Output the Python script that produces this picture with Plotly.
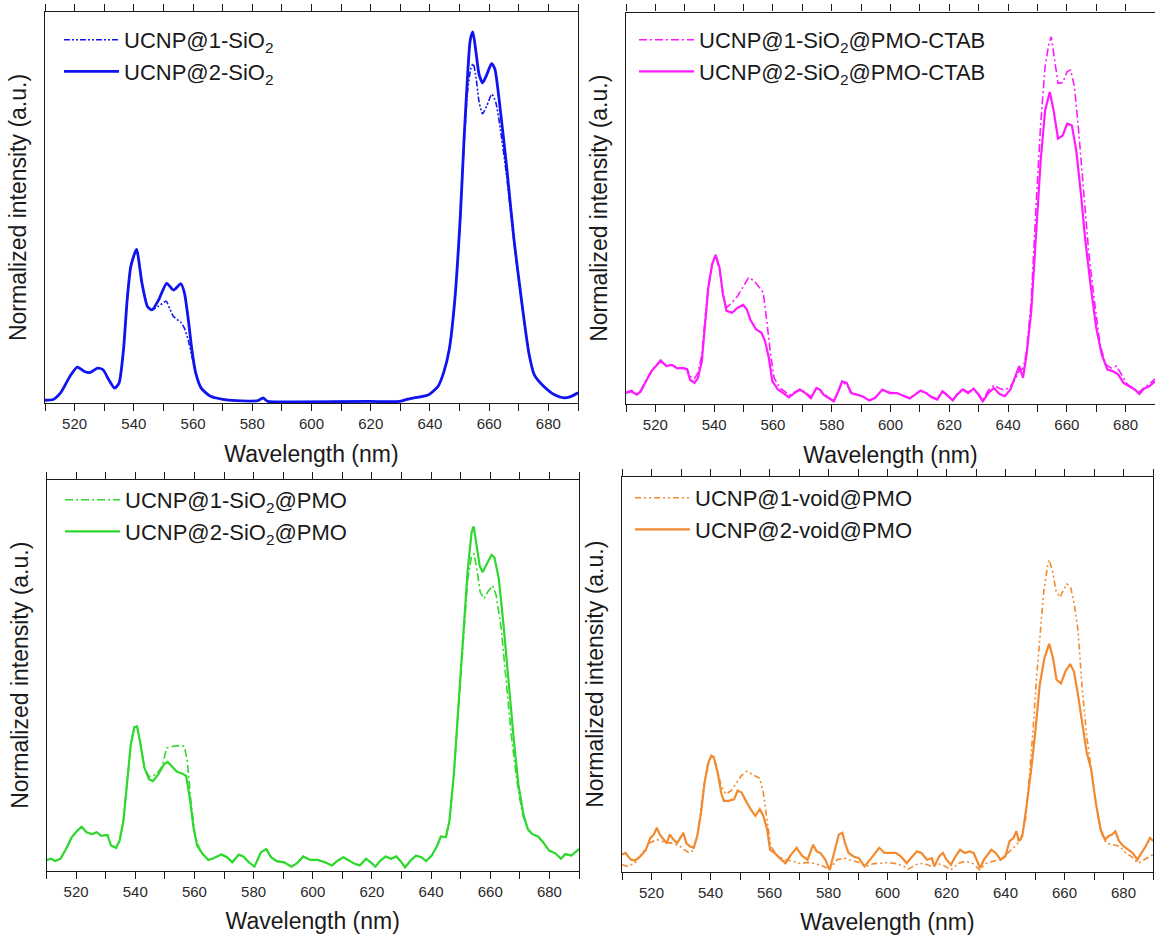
import plotly.graph_objects as go

W, H = 1155, 937

# ---------------- data (wavelength nm, normalized intensity) ----------------
p1_sio2_1 = [(510,0.007),(512.75,0.009),(515.25,0.026),(518.4,0.068),(520.9,0.092),(523.5,0.08),(525.25,0.078),(527.75,0.089),(529.6,0.085),(531.5,0.06),(533.5,0.038),(535,0.051),(536.5,0.136),(537.75,0.264),(539,0.35),(540.9,0.393),(542.75,0.306),(544.6,0.247),(546.1,0.238),(548.4,0.248),(550.9,0.26),(552.2,0.24),(553.4,0.221),(555.9,0.206),(557.1,0.191),(558.4,0.16),(559.6,0.12),(560.9,0.075),(562.75,0.038),(565.9,0.017),(569.6,0.01),(574.6,0.006),(582,0.006),(583.6,0.013),(585.25,0.004),(594.6,0.003),(619.6,0.004),(629.6,0.004),(632.1,0.009),(634.6,0.013),(639.6,0.021),(642.75,0.043),(644.6,0.077),(646.5,0.136),(648.4,0.264),(650.25,0.47),(651.5,0.66),(652.75,0.80),(653.8,0.855),(654.6,0.868),(655.6,0.83),(656.6,0.77),(657.75,0.74),(659.2,0.76),(660.9,0.79),(662.2,0.77),(663.8,0.70),(665.9,0.58),(668.4,0.41),(670.9,0.264),(673.4,0.128),(675.25,0.072),(678.4,0.043),(682.1,0.021),(685.25,0.013),(687.75,0.017),(690,0.026)]
p1_sio2_2 = [(510,0.007),(512.75,0.009),(515.25,0.026),(518.4,0.068),(520.9,0.092),(523.5,0.08),(525.25,0.078),(527.75,0.089),(529.6,0.085),(531.5,0.06),(533.5,0.038),(535,0.051),(536.5,0.136),(537.75,0.264),(539,0.35),(540.9,0.393),(542.75,0.306),(544.6,0.247),(546.1,0.238),(548.4,0.264),(551.1,0.306),(553.4,0.289),(555.9,0.305),(557.1,0.281),(558.4,0.213),(559.6,0.136),(560.9,0.077),(562.75,0.038),(565.9,0.017),(569.6,0.01),(574.6,0.006),(582,0.006),(583.6,0.013),(585.25,0.004),(594.6,0.003),(619.6,0.004),(629.6,0.004),(632.1,0.009),(634.6,0.013),(639.6,0.021),(642.75,0.043),(644.6,0.077),(646.5,0.136),(648.4,0.264),(650.25,0.477),(651.5,0.672),(652.75,0.843),(653.6,0.928),(654.5,0.949),(655.5,0.90),(656.6,0.84),(657.8,0.819),(659.2,0.84),(660.8,0.868),(661.9,0.855),(663.4,0.774),(665.9,0.604),(668.4,0.417),(670.9,0.264),(673.4,0.128),(675.25,0.072),(678.4,0.043),(682.1,0.021),(685.25,0.013),(687.75,0.017),(690,0.026)]

p2_ctab_1 = [(510,0.03),(511.9,0.035),(513.7,0.026),(515,0.034),(516.8,0.06),(518.7,0.086),(520.6,0.102),(521.8,0.112),(523.7,0.099),(525.6,0.1),(527.4,0.093),(529.3,0.092),(530.8,0.09),(531.8,0.07),(533.3,0.065),(534.5,0.08),(535.8,0.125),(536.8,0.21),(538,0.30),(539.3,0.355),(540.5,0.378),(541.8,0.345),(543,0.28),(544.2,0.246),(546.1,0.259),(548,0.276),(549.9,0.302),(551.7,0.323),(553.6,0.315),(555.5,0.297),(556.7,0.285),(557.9,0.212),(559.2,0.126),(560.4,0.067),(562.3,0.041),(564.2,0.031),(565.4,0.022),(567.3,0.03),(569.2,0.038),(571,0.03),(572.9,0.018),(574.8,0.04),(576,0.036),(577.2,0.026),(579.1,0.016),(580.7,0.008),(582.2,0.03),(583.5,0.055),(585.1,0.05),(586.6,0.03),(588.5,0.025),(590.3,0.02),(592.8,0.01),(594.7,0.016),(597.2,0.035),(599.7,0.03),(602.2,0.028),(604.7,0.021),(606.5,0.015),(608.4,0.025),(610.2,0.035),(612.1,0.029),(614,0.019),(615.9,0.013),(617.7,0.033),(619.6,0.022),(621.2,0.01),(622.7,0.026),(624.6,0.038),(626.4,0.03),(628.3,0.04),(629.9,0.026),(631.4,0.01),(633.3,0.035),(635.2,0.048),(637,0.04),(638.9,0.035),(640.8,0.045),(642.6,0.065),(643.8,0.085),(645.1,0.09),(646.3,0.135),(647.9,0.264),(649.5,0.503),(651.1,0.715),(652.6,0.862),(653.9,0.921),(654.7,0.938),(655.7,0.887),(657,0.819),(658.6,0.821),(660.1,0.849),(661.3,0.853),(662.6,0.81),(664.1,0.691),(665.7,0.554),(667.5,0.383),(669.4,0.263),(671.3,0.152),(673.2,0.101),(675,0.092),(676.9,0.097),(678.8,0.071),(680.6,0.05),(682.5,0.041),(684.3,0.028),(686.2,0.041),(688.1,0.051),(690,0.064)]
p2_ctab_2 = [(510,0.028),(511.9,0.032),(513.7,0.024),(515,0.032),(516.8,0.058),(518.7,0.084),(520.6,0.1),(521.8,0.111),(523.7,0.097),(525.6,0.1),(527.4,0.091),(529.3,0.092),(530.8,0.088),(531.8,0.062),(533.3,0.054),(534.5,0.067),(535.8,0.109),(536.8,0.195),(538,0.297),(539.3,0.357),(540.5,0.381),(541.8,0.349),(543,0.28),(544.2,0.238),(546.1,0.233),(548,0.246),(549.9,0.253),(551.1,0.242),(552.3,0.216),(554.2,0.191),(556.1,0.182),(557.3,0.161),(558.6,0.118),(559.8,0.058),(561.7,0.037),(563.5,0.028),(565.4,0.017),(567.3,0.028),(569.2,0.037),(571,0.028),(572.9,0.015),(574.8,0.041),(576,0.037),(577.2,0.024),(579.1,0.015),(580.7,0.007),(582.2,0.032),(583.5,0.058),(585.1,0.054),(586.6,0.028),(588.5,0.024),(590.3,0.02),(592.8,0.009),(594.7,0.015),(597.2,0.037),(599.7,0.028),(602.2,0.028),(604.7,0.02),(606.5,0.014),(608.4,0.024),(610.2,0.034),(612.1,0.028),(614,0.017),(615.9,0.011),(617.7,0.032),(619.6,0.02),(621.2,0.009),(622.7,0.024),(624.6,0.037),(626.4,0.028),(628.3,0.039),(629.9,0.024),(631.4,0.007),(633.3,0.028),(635.2,0.041),(637,0.026),(638.9,0.02),(640.8,0.037),(642.6,0.071),(643.8,0.097),(645.1,0.067),(646.3,0.126),(647.9,0.238),(649.5,0.434),(651.1,0.622),(652.6,0.75),(654.2,0.797),(655.5,0.75),(657,0.678),(658.6,0.686),(660.1,0.716),(661.7,0.712),(663.2,0.648),(664.8,0.537),(666.3,0.417),(668.2,0.297),(670,0.195),(671.9,0.126),(673.8,0.088),(675.6,0.084),(677.5,0.075),(679.3,0.054),(681.2,0.045),(683.1,0.037),(684.7,0.026),(686.2,0.039),(688.1,0.045),(690,0.058)]

p3_pmo_1 = [(510,0.027),(511.6,0.03),(512.9,0.024),(514.7,0.03),(516.6,0.055),(518.5,0.085),(520.4,0.102),(521.9,0.112),(523.5,0.098),(525.4,0.093),(526.9,0.098),(528.5,0.089),(530.6,0.091),(531.8,0.064),(533.5,0.058),(534.7,0.076),(536,0.127),(537.2,0.229),(538.5,0.323),(539.7,0.367),(540.6,0.369),(541.6,0.331),(543.1,0.263),(544.7,0.24),(547.2,0.246),(549.1,0.267),(550.6,0.314),(552.8,0.318),(555.3,0.32),(556.6,0.318),(557.6,0.28),(558.8,0.178),(560.3,0.085),(562.2,0.047),(564.7,0.027),(566.6,0.032),(569.1,0.041),(571,0.034),(572.8,0.021),(575,0.041),(576.5,0.036),(578.4,0.021),(580.3,0.01),(582.5,0.047),(584.3,0.055),(585.9,0.034),(587.8,0.024),(590.3,0.021),(592.8,0.01),(594.7,0.019),(596.8,0.036),(599.1,0.027),(601.6,0.027),(604.1,0.021),(606.5,0.013),(608.4,0.025),(610.3,0.034),(612.1,0.027),(614.2,0.017),(615.9,0.013),(618,0.03),(619.6,0.021),(621.2,0.01),(622.7,0.024),(624.6,0.036),(626.5,0.03),(628.3,0.036),(630,0.021),(631.2,0.008),(633,0.025),(634.9,0.038),(636.7,0.034),(638.3,0.024),(640.2,0.038),(642.1,0.064),(643.3,0.087),(645,0.085),(646.2,0.127),(647.7,0.246),(649.2,0.41),(650.8,0.59),(652.4,0.747),(653.7,0.806),(654.5,0.811),(655.5,0.772),(656.6,0.713),(657.9,0.696),(659.1,0.713),(660.8,0.73),(662,0.705),(663.7,0.62),(665.2,0.501),(667.1,0.348),(669,0.229),(670.9,0.144),(672.7,0.106),(674.2,0.093),(676.2,0.087),(677.9,0.072),(679.9,0.051),(682,0.044),(683.9,0.03),(685.4,0.042),(687.4,0.038),(689.5,0.053),(690,0.055)]
p3_pmo_2 = [(510,0.027),(511.6,0.03),(512.9,0.024),(514.7,0.03),(516.6,0.055),(518.5,0.085),(520.4,0.102),(521.9,0.112),(523.5,0.098),(525.4,0.093),(526.9,0.098),(528.5,0.089),(530.6,0.091),(531.8,0.064),(533.5,0.058),(534.7,0.076),(536,0.127),(537.2,0.229),(538.5,0.323),(539.7,0.367),(540.6,0.369),(541.6,0.331),(543.1,0.263),(544.7,0.233),(546,0.229),(547.8,0.246),(549.7,0.272),(551,0.278),(552.6,0.265),(554.1,0.253),(556,0.248),(557.2,0.242),(558.4,0.187),(559.7,0.11),(560.9,0.064),(562.8,0.042),(564.7,0.027),(566.6,0.032),(569.1,0.041),(571,0.034),(572.8,0.021),(575,0.041),(576.5,0.036),(578.4,0.021),(580.3,0.01),(582.5,0.047),(584.3,0.055),(585.9,0.034),(587.8,0.024),(590.3,0.021),(592.8,0.01),(594.7,0.019),(596.8,0.036),(599.1,0.027),(601.6,0.027),(604.1,0.021),(606.5,0.013),(608.4,0.025),(610.3,0.034),(612.1,0.027),(614.2,0.017),(615.9,0.013),(618,0.03),(619.6,0.021),(621.2,0.01),(622.7,0.024),(624.6,0.036),(626.5,0.03),(628.3,0.036),(630,0.021),(631.2,0.008),(633,0.025),(634.9,0.038),(636.7,0.034),(638.3,0.024),(640.2,0.038),(642.1,0.064),(643.3,0.087),(645,0.085),(646.2,0.127),(647.7,0.246),(649.2,0.416),(650.8,0.603),(652.4,0.772),(653.7,0.866),(654.4,0.881),(655.4,0.832),(656.4,0.781),(657.4,0.764),(658.9,0.785),(660.4,0.808),(661.4,0.802),(662.9,0.747),(664.5,0.628),(666.1,0.484),(667.9,0.34),(669.5,0.221),(671.2,0.144),(672.7,0.106),(674.2,0.093),(676.2,0.087),(677.9,0.072),(679.9,0.051),(682,0.044),(683.9,0.03),(685.4,0.042),(687.4,0.038),(689.5,0.053),(690,0.055)]

p4_void_1 = [(510,0.017),(511.9,0.013),(514.4,0.021),(516.8,0.047),(519.3,0.072),(521.8,0.081),(524.3,0.074),(526.8,0.072),(529.3,0.066),(531.2,0.055),(532.8,0.047),(534.3,0.055),(535.8,0.098),(537.4,0.2),(539,0.269),(540.5,0.294),(542,0.269),(543.6,0.217),(545.2,0.196),(547,0.205),(548.6,0.222),(550.5,0.243),(552.3,0.254),(554.2,0.247),(556.7,0.236),(557.9,0.2),(559.2,0.124),(560.4,0.064),(562.9,0.038),(565.4,0.03),(567.9,0.026),(570.4,0.02),(572.9,0.023),(575.4,0.02),(577.9,0.014),(580.4,0.006),(582.9,0.03),(585.3,0.034),(587.8,0.028),(590.3,0.023),(592.8,0.013),(595.3,0.02),(597.8,0.021),(600.3,0.023),(602.8,0.02),(605.3,0.014),(607.1,0.006),(609.6,0.017),(612.1,0.021),(614.6,0.014),(617.1,0.02),(619.6,0.013),(621.5,0.004),(624,0.021),(626.5,0.026),(629,0.02),(631.2,0.004),(633.3,0.02),(635.8,0.026),(638.3,0.03),(640.8,0.047),(643.3,0.064),(645.2,0.081),(646.8,0.132),(648,0.234),(649.3,0.354),(650.5,0.49),(651.8,0.618),(653,0.712),(654.3,0.776),(654.8,0.79),(655.9,0.763),(657.1,0.712),(658.4,0.695),(659.6,0.712),(660.8,0.729),(662.1,0.72),(663.3,0.678),(664.6,0.61),(665.9,0.473),(667.5,0.345),(669.2,0.251),(670.8,0.166),(672.5,0.098),(674.2,0.072),(676.5,0.068),(678.7,0.064),(680.8,0.047),(682.7,0.038),(684.9,0.021),(687,0.03),(688.9,0.038),(690,0.043)]
p4_void_2 = [(510,0.043),(511.2,0.047),(512.1,0.038),(513.1,0.03),(514.4,0.028),(516.2,0.038),(518.1,0.055),(519.6,0.085),(520.8,0.094),(521.8,0.111),(522.8,0.094),(524.1,0.081),(525.2,0.071),(526.2,0.094),(527.4,0.081),(528.7,0.072),(529.9,0.085),(530.8,0.098),(531.8,0.072),(533,0.064),(534.3,0.06),(535.5,0.09),(536.8,0.149),(538,0.226),(539.3,0.277),(540.3,0.294),(541.1,0.29),(542.4,0.251),(543.6,0.2),(544.5,0.179),(546.1,0.179),(548,0.183),(549.2,0.205),(550.5,0.2),(552,0.179),(553.6,0.158),(555.2,0.141),(556.7,0.158),(557.9,0.141),(559.2,0.107),(560.2,0.055),(561.7,0.047),(563.5,0.034),(565.4,0.021),(567.3,0.043),(569.2,0.06),(571,0.04),(572.9,0.03),(574.8,0.068),(576,0.051),(577.2,0.047),(578.9,0.03),(580.4,0.004),(582,0.047),(583.5,0.094),(584.7,0.098),(585.6,0.072),(586.8,0.047),(588.5,0.038),(590.3,0.034),(592.2,0.013),(594.1,0.03),(595.9,0.047),(597.2,0.06),(599,0.047),(600.9,0.047),(602.8,0.047),(604.6,0.038),(606.5,0.021),(608.4,0.038),(610,0.051),(611.5,0.047),(613.4,0.03),(615,0.034),(615.9,0.013),(617.5,0.038),(618.8,0.047),(620,0.03),(621.5,0.017),(623,0.038),(624.6,0.055),(626.2,0.047),(627.7,0.051),(629.2,0.047),(630.4,0.026),(631.4,0.009),(632.7,0.03),(633.9,0.043),(635.2,0.055),(636.7,0.047),(638.3,0.03),(639.9,0.038),(641.4,0.077),(642.7,0.085),(643.7,0.102),(644.5,0.077),(645.7,0.09),(647,0.158),(648.6,0.251),(650.1,0.354),(651.6,0.473),(653.2,0.541),(654.8,0.577),(656.1,0.541),(657.3,0.486),(658.8,0.477),(660.3,0.507),(661.9,0.526),(663.2,0.507),(664.4,0.456),(666,0.371),(667.5,0.303),(669,0.26),(670.6,0.175),(672.2,0.107),(673.7,0.081),(675,0.09),(676.2,0.094),(677.2,0.102),(678.5,0.077),(680,0.064),(681.8,0.055),(683.1,0.047),(684.7,0.03),(686.2,0.047),(687.5,0.064),(689,0.085),(690,0.077)]

names_1 = ["UCNP@1-SiO<sub>2</sub>", "UCNP@1-SiO<sub>2</sub>@PMO-CTAB", "UCNP@1-SiO<sub>2</sub>@PMO", "UCNP@1-void@PMO"]
names_2 = ["UCNP@2-SiO<sub>2</sub>", "UCNP@2-SiO<sub>2</sub>@PMO-CTAB", "UCNP@2-SiO<sub>2</sub>@PMO", "UCNP@2-void@PMO"]
x_range = [510, 690]
x_title = "Wavelength (nm)"
y_title = "Normalized intensity (a.u.)"

colors = ["#0F14F0", "#FF1AFF", "#2ED82E", "#F28A30"]
dashes = ["6px,2px,2px,2px,2px,2px", "8px,3px,2px,3px", "8px,3px,2px,3px", "6px,3px,2px,3px,2px,3px"]
solid_w = [2.8, 2.2, 2.2, 2.2]
series_1 = [p1_sio2_1, p2_ctab_1, p3_pmo_1, p4_void_1]
series_2 = [p1_sio2_2, p2_ctab_2, p3_pmo_2, p4_void_2]
shapes = ["spline", "linear", "linear", "linear"]

# panel frames in pixels: (left, right, top, bottom)
frames = [(45, 578, 12, 403), (626, 1155, 12.5, 404), (46.5, 579, 480, 870.5), (622, 1153, 477, 871.5)]
legend_pos = [(59, 19), (634, 19), (60, 479), (630, 477)]

fig = go.Figure()
font_family = "Liberation Sans, Arial, sans-serif"
ink = "#1a1a1a"
for i in range(4):
    ax = "" if i == 0 else str(i + 1)
    lg = "legend" if i == 0 else "legend" + str(i + 1)
    for data, nm, dash, wdt in ((series_1[i], names_1[i], dashes[i], 1.6), (series_2[i], names_2[i], "solid", solid_w[i])):
        fig.add_trace(go.Scatter(
            x=[p[0] for p in data], y=[p[1] for p in data], mode="lines", name=nm,
            line=dict(color=colors[i], width=wdt, dash=dash, shape=shapes[i], smoothing=0.6),
            xaxis="x" + ax, yaxis="y" + ax, legend=lg, showlegend=True))
    l, r, t, b = frames[i]
    xd = [l / W, min(r / W, 1.0)]
    yd = [1 - b / H, 1 - t / H]
    axis_common = dict(showline=True, linecolor=ink, linewidth=1.3, mirror="allticks",
                       showgrid=False, zeroline=False, automargin=False)
    fig.layout["xaxis" + ax] = dict(domain=xd, range=x_range, anchor="y" + ax,
                                    tickmode="linear", tick0=520, dtick=20,
                                    ticks="outside", ticklen=7, tickwidth=1.3, tickcolor=ink,
                                    minor=dict(tick0=510, dtick=10, ticks="outside", ticklen=7,
                                               tickwidth=1.3, tickcolor=ink, showgrid=False),
                                    tickfont=dict(size=15, color="#2a2a2a", family=font_family),
                                    title=dict(text=x_title, standoff=14,
                                               font=dict(size=23, color=ink, family=font_family)),
                                    **axis_common)
    fig.layout["yaxis" + ax] = dict(domain=yd, range=[0, 1.0], anchor="x" + ax,
                                    showticklabels=False, ticks="",
                                    title=dict(text=y_title, standoff=10,
                                               font=dict(size=23, color=ink, family=font_family)),
                                    **axis_common)
    lx, ly = legend_pos[i]
    fig.layout[lg] = dict(x=lx / W, y=1 - ly / H, xanchor="left", yanchor="top",
                          bgcolor="rgba(0,0,0,0)", borderwidth=0,
                          font=dict(size=22, color=ink, family=font_family),
                          itemwidth=55, tracegroupgap=0)

fig.update_layout(template="none", width=W, height=H, margin=dict(l=0, r=0, t=0, b=0),
                  paper_bgcolor="white", plot_bgcolor="white",
                  font=dict(family=font_family))
fig.write_html("out.html", config={"displayModeBar": False},
               post_script="document.body.style.margin='0px';document.body.style.overflow='hidden';")
